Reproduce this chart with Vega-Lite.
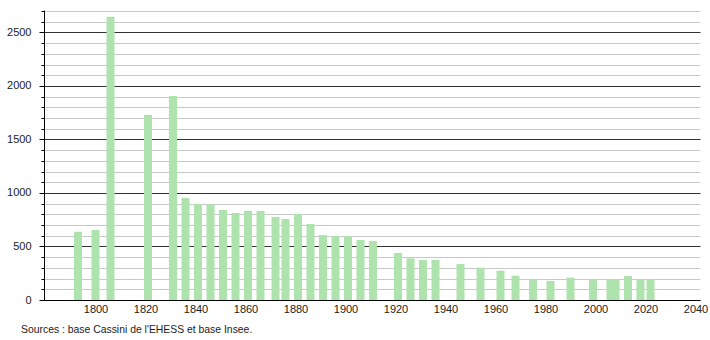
{
  "$schema": "https://vega.github.io/schema/vega-lite/v6.json",
  "width": 656,
  "height": 290,
  "autosize": "none",
  "padding": {"left": 44, "top": 10, "right": 10, "bottom": 40},
  "background": "white",
  "config": {"view": {"stroke": null}, "font": "Liberation Sans"},
  "title": {
    "text": "Sources : base Cassini de l'EHESS et base Insee.",
    "orient": "bottom",
    "anchor": "start",
    "frame": "group",
    "dx": -23,
    "offset": 11,
    "fontSize": 10.4,
    "fontWeight": "normal",
    "color": "#222",
    "font": "Liberation Sans"
  },
  "data": {
    "values": [
      {"year": 1793, "population": 638},
      {"year": 1800, "population": 654},
      {"year": 1806, "population": 2648},
      {"year": 1821, "population": 1729},
      {"year": 1831, "population": 1907},
      {"year": 1836, "population": 953},
      {"year": 1841, "population": 897},
      {"year": 1846, "population": 895},
      {"year": 1851, "population": 841},
      {"year": 1856, "population": 812},
      {"year": 1861, "population": 832},
      {"year": 1866, "population": 832},
      {"year": 1872, "population": 776},
      {"year": 1876, "population": 757},
      {"year": 1881, "population": 804},
      {"year": 1886, "population": 710},
      {"year": 1891, "population": 607},
      {"year": 1896, "population": 598},
      {"year": 1901, "population": 596},
      {"year": 1906, "population": 561},
      {"year": 1911, "population": 551},
      {"year": 1921, "population": 439},
      {"year": 1926, "population": 390},
      {"year": 1931, "population": 374},
      {"year": 1936, "population": 374},
      {"year": 1946, "population": 336},
      {"year": 1954, "population": 302},
      {"year": 1962, "population": 274},
      {"year": 1968, "population": 227},
      {"year": 1975, "population": 193},
      {"year": 1982, "population": 178},
      {"year": 1990, "population": 209},
      {"year": 1999, "population": 193},
      {"year": 2006, "population": 193},
      {"year": 2008, "population": 193},
      {"year": 2013, "population": 224},
      {"year": 2018, "population": 193},
      {"year": 2022, "population": 193}
    ]
  },
  "mark": {"type": "bar", "width": 8, "color": "#aee3ae"},
  "encoding": {
    "x": {
      "field": "year",
      "type": "quantitative",
      "scale": {"domain": [1779.4, 2041.8], "nice": false, "zero": false, "padding": 0},
      "axis": {
        "values": [1800, 1820, 1840, 1860, 1880, 1900, 1920, 1940, 1960, 1980, 2000, 2020, 2040],
        "format": "d",
        "title": null,
        "grid": false,
        "ticks": false,
        "domainColor": "#000",
        "domainWidth": 1,
        "labelFontSize": 11,
        "labelColor": "#222",
        "labelPadding": 3,
        "labelFont": "Liberation Sans"
      }
    },
    "y": {
      "field": "population",
      "type": "quantitative",
      "scale": {"domain": [0, 2710], "nice": false},
      "axis": {
        "values": [0, 100, 200, 300, 400, 500, 600, 700, 800, 900, 1000, 1100, 1200, 1300, 1400, 1500, 1600, 1700, 1800, 1900, 2000, 2100, 2200, 2300, 2400, 2500, 2600, 2700],
        "labelExpr": "datum.value % 500 === 0 ? datum.value : ''",
        "title": null,
        "grid": true,
        "gridColor": {"condition": {"test": "datum.value % 500 === 0", "value": "#333"}, "value": "#c8c8c8"},
        "gridWidth": 1,
        "tickColor": "#000",
        "tickSize": {"condition": {"test": "datum.value % 500 === 0", "value": 5}, "value": 3},
        "domainColor": "#000",
        "labelFontSize": 11,
        "labelColor": "#222",
        "labelPadding": 8,
        "labelFont": "Liberation Sans"
      }
    }
  }
}
